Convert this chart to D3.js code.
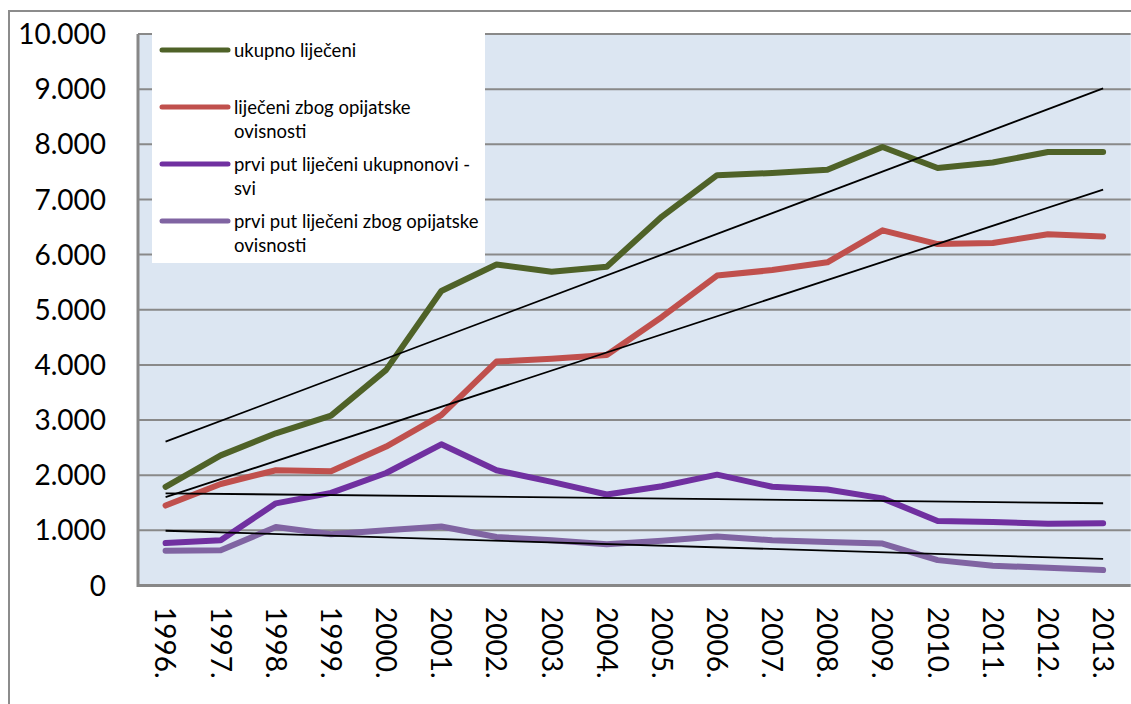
<!DOCTYPE html>
<html>
<head>
<meta charset="utf-8" />
<script src="https://cdn.jsdelivr.net/npm/d3@7"></script>
<style>
  html, body { margin: 0; padding: 0; background: #fff; }
  svg { display: block; font-family: Lato, "Open Sans", sans-serif; }
</style>
</head>
<body>
<svg width="1131" height="704"></svg>
<script>
// categories
var years = ['1996.', '1997.', '1998.', '1999.', '2000.', '2001.', '2002.', '2003.', '2004.',
  '2005.', '2006.', '2007.', '2008.', '2009.', '2010.', '2011.', '2012.', '2013.'];

// series
var ukupnoLijeceni = [1790, 2360, 2760, 3080, 3910, 5340, 5820, 5690, 5780, 6690, 7440, 7480, 7540, 7950, 7570, 7670, 7860, 7860];
var opijatskeOvisnosti = [1450, 1840, 2090, 2070, 2520, 3090, 4060, 4110, 4180, 4870, 5620, 5720, 5860, 6440, 6190, 6210, 6370, 6330];
var prviPutSvi = [770, 820, 1490, 1680, 2040, 2560, 2090, 1880, 1650, 1800, 2010, 1790, 1740, 1580, 1170, 1150, 1120, 1130];
var prviPutOpijati = [630, 640, 1060, 930, 1000, 1070, 880, 820, 750, 810, 890, 820, 790, 760, 460, 360, 320, 280];

var seriesNames = [
  ['ukupno liječeni'],
  ['liječeni zbog opijatske', 'ovisnosti'],
  ['prvi put liječeni ukupnonovi -', 'svi'],
  ['prvi put liječeni zbog opijatske', 'ovisnosti']
];
var seriesColors = ['#4f6228', '#c0504d', '#7030a0', '#8064a2'];
var yTicks = [0, 1000, 2000, 3000, 4000, 5000, 6000, 7000, 8000, 9000, 10000];

var allSeries = [ukupnoLijeceni, opijatskeOvisnosti, prviPutSvi, prviPutOpijati];

var svg = d3.select('svg');
var plotLeft = 138, plotTop = 34, plotBottom = 585.5, step = 55.15;

var x = d3.scaleBand().domain(years).range([plotLeft, plotLeft + years.length * step]).padding(0);
var y = d3.scaleLinear().domain([0, 10000]).range([plotBottom, plotTop]);
var plotRight = x.range()[1];
var cx = function (i) { return x(years[i]) + x.bandwidth() / 2; };

// outer chart border
svg.append('path')
  .attr('d', 'M9,704 L9,11 L1131,11')
  .attr('fill', 'none')
  .attr('stroke', '#8c8c8c')
  .attr('stroke-width', 2);

// plot area
svg.append('rect')
  .attr('x', plotLeft).attr('y', plotTop)
  .attr('width', plotRight - plotLeft).attr('height', plotBottom - plotTop)
  .attr('fill', '#dce6f2');

// gridlines
svg.append('g').selectAll('line')
  .data(yTicks.slice(1))
  .enter().append('line')
  .attr('x1', plotLeft).attr('x2', plotRight)
  .attr('y1', function (d) { return y(d); })
  .attr('y2', function (d) { return y(d); })
  .attr('stroke', '#898989')
  .attr('stroke-width', 2);

// axis lines
svg.append('path')
  .attr('d', 'M' + plotLeft + ',' + plotTop + ' L' + plotLeft + ',' + plotBottom + ' L' + plotRight + ',' + plotBottom)
  .attr('fill', 'none')
  .attr('stroke', '#878787')
  .attr('stroke-width', 3);

// y tick labels
svg.append('g').selectAll('text')
  .data(yTicks)
  .enter().append('text')
  .attr('x', 106)
  .attr('y', function (d) { return y(d); })
  .attr('dy', '0.36em')
  .attr('text-anchor', 'end')
  .attr('font-size', 28)
  .attr('fill', '#000')
  .text(function (d) { return d3.format(',')(d).replace(/,/g, '.'); });

// x tick labels (rotated)
svg.append('g').selectAll('text')
  .data(years)
  .enter().append('text')
  .attr('transform', function (d) { return 'translate(' + (x(d) + x.bandwidth() / 2) + ',607) rotate(90)'; })
  .attr('dy', '0.36em')
  .attr('text-anchor', 'start')
  .attr('font-size', 28)
  .attr('fill', '#000')
  .text(function (d) { return d; });

// series lines
var line = d3.line()
  .x(function (d, i) { return cx(i); })
  .y(function (d) { return y(d); });

svg.append('g').selectAll('path')
  .data(allSeries)
  .enter().append('path')
  .attr('d', function (d) { return line(d); })
  .attr('fill', 'none')
  .attr('stroke', function (d, i) { return seriesColors[i]; })
  .attr('stroke-width', 6)
  .attr('stroke-linecap', 'round')
  .attr('stroke-linejoin', 'round');

// linear trendlines (least squares, like the spreadsheet)
function trend(vals) {
  var n = vals.length;
  var mx = d3.mean(vals, function (d, i) { return i; });
  var my = d3.mean(vals);
  var num = 0, den = 0;
  vals.forEach(function (v, i) { num += (i - mx) * (v - my); den += (i - mx) * (i - mx); });
  var b = num / den, a = my - b * mx;
  return [[0, a], [n - 1, a + b * (n - 1)]];
}

svg.append('g').selectAll('line')
  .data(allSeries.map(trend))
  .enter().append('line')
  .attr('x1', function (d) { return cx(d[0][0]); })
  .attr('y1', function (d) { return y(d[0][1]); })
  .attr('x2', function (d) { return cx(d[1][0]); })
  .attr('y2', function (d) { return y(d[1][1]); })
  .attr('stroke', '#000')
  .attr('stroke-width', 1.8);

// legend
var legend = svg.append('g');
legend.append('rect')
  .attr('x', 152).attr('y', 30)
  .attr('width', 333).attr('height', 233)
  .attr('fill', '#fff');

var legendY = [50, 107, 164, 221];
var item = legend.selectAll('g.item')
  .data(seriesNames)
  .enter().append('g')
  .attr('class', 'item')
  .attr('transform', function (d, i) { return 'translate(0,' + legendY[i] + ')'; });

item.append('line')
  .attr('x1', 162).attr('x2', 228)
  .attr('y1', 0).attr('y2', 0)
  .attr('stroke', function (d, i) { return seriesColors[i]; })
  .attr('stroke-width', 5)
  .attr('stroke-linecap', 'round');

item.append('text')
  .attr('x', 234)
  .attr('font-size', 18.5)
  .attr('fill', '#000')
  .selectAll('tspan')
  .data(function (d) { return d; })
  .enter().append('tspan')
  .attr('x', 234)
  .attr('y', function (d, i) { return i * 24; })
  .attr('dy', '0.36em')
  .text(function (d) { return d; });
</script>
</body>
</html>
